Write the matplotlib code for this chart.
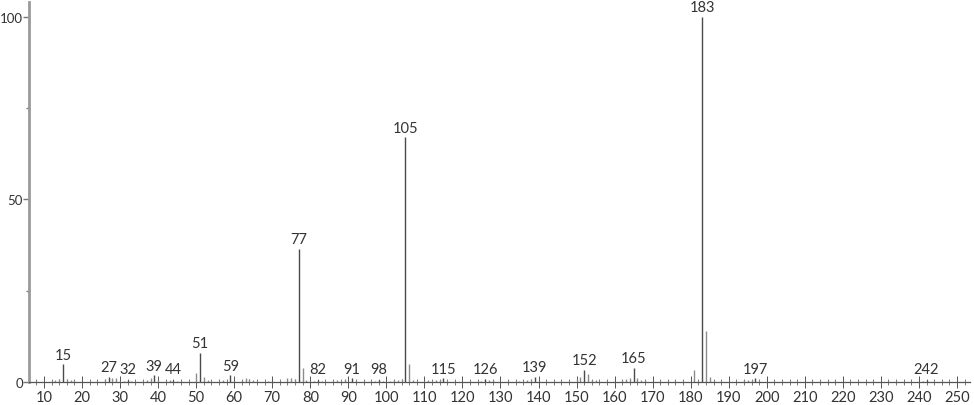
import matplotlib
matplotlib.use("Agg")
import matplotlib.pyplot as plt
from matplotlib.ticker import MultipleLocator

plt.rcParams['font.family'] = ['Lato', 'DejaVu Sans']

mz = [12, 13, 14, 15, 16, 17, 18,
      26, 27, 28, 29, 30, 31, 32, 33,
      37, 38, 39, 40,
      43, 44, 45, 46,
      50, 51, 52, 53, 54,
      57, 59, 60, 62, 63, 64, 65,
      69, 74, 75, 76, 77, 78, 79, 80,
      81, 82, 83, 86, 87, 88, 89, 91, 92,
      96, 97, 98, 99, 101, 102, 103, 104, 105, 106, 107,
      110, 111, 112, 113, 114, 115, 116,
      125, 126, 127, 128,
      135, 137, 138, 139, 140,
      150, 151, 152, 153, 154, 155,
      162, 163, 164, 165, 166, 167, 168,
      181, 182, 183, 184, 185, 186,
      194, 195, 196, 197, 198,
      241, 242]
intensity = [0.3, 0.5, 0.8, 4.8, 0.8, 0.6, 0.5,
             0.8, 1.5, 1.2, 1.0, 0.3, 0.4, 0.6, 0.3,
             0.5, 1.0, 1.8, 0.5,
             0.5, 0.5, 0.4, 0.3,
             2.5, 8.0, 1.5, 0.6, 0.3,
             0.5, 1.8, 0.4, 0.6, 1.2, 0.7, 0.6,
             0.3, 1.2, 1.2, 0.8, 36.5, 3.8, 0.5, 0.3,
             0.4, 0.6, 0.3, 0.4, 0.6, 0.4, 0.7, 1.0, 0.4,
             0.4, 0.4, 0.6, 0.4, 0.4, 0.6, 0.5, 0.8, 67.0, 5.0, 0.5,
             0.3, 0.5, 0.3, 0.5, 0.5, 1.0, 0.3,
             0.4, 0.8, 0.6, 0.5,
             0.4, 0.6, 0.7, 1.3, 0.4,
             0.8, 1.5, 3.3, 2.2, 0.6, 0.5,
             0.6, 0.9, 1.2, 3.8, 1.0, 0.6, 0.5,
             3.4, 0.3, 100.0, 14.0, 1.3, 0.4,
             0.5, 0.5, 0.6, 1.0, 0.4,
             0.3, 0.5]
labeled = [15, 27, 32, 39, 44, 51, 59, 77, 82, 91, 98, 105, 115, 126, 139,
           152, 165, 183, 197, 242]

W, H = 974, 406
fig = plt.figure(figsize=(W / 100, H / 100), dpi=100)
ax = fig.add_axes([29 / W, (H - 383) / H, (970 - 29) / W, (383 - 3) / H])

x0 = 10 - 15 / 3.804
x1 = 10 + 926 / 3.804
ax.set_xlim(x0, x1)
ax.set_ylim(0, 104.1)

lab_set = set(labeled)
for m, v in zip(mz, intensity):
    col = '#4a4a4a' if m in lab_set else '#8c8c8c'
    ax.vlines(m, 0, v, color=col, linewidth=1.0)

for m, v in zip(mz, intensity):
    if m in lab_set:
        ax.annotate(str(m), (m, max(v, 1.0)), xytext=(0, 2), textcoords='offset points',
                    ha='center', va='bottom', fontsize=10.5, color='#333333')

for s in ['top', 'right']:
    ax.spines[s].set_visible(False)
ax.spines['left'].set_color('#9a9a9a')
ax.spines['left'].set_linewidth(2)
ax.spines['bottom'].set_color('#555555')
ax.spines['bottom'].set_linewidth(0.9)

ax.xaxis.set_major_locator(MultipleLocator(10))
ax.xaxis.set_minor_locator(MultipleLocator(2))
ax.set_xticks(list(range(10, 251, 10)))
ax.yaxis.set_major_locator(MultipleLocator(50))
ax.yaxis.set_minor_locator(MultipleLocator(25))
ax.set_yticks([0, 50, 100])

ax.tick_params(axis='x', which='major', direction='inout', length=8, width=0.7,
               color='#555555', labelsize=10.5, labelcolor='#333333', pad=2)
ax.tick_params(axis='x', which='minor', direction='inout', length=4, width=0.6,
               color='#666666')
ax.tick_params(axis='y', which='major', direction='out', length=4, width=1,
               color='#777777', labelsize=9.5, labelcolor='#333333', pad=0.5)
ax.tick_params(axis='y', which='minor', direction='out', length=2.5, width=1,
               color='#777777')

fig.savefig('out.png', dpi=100)
